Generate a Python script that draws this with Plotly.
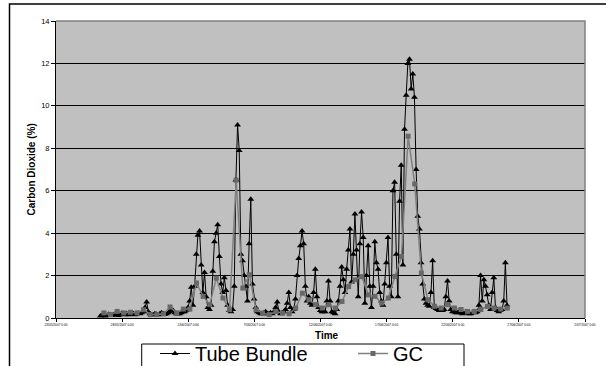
import pandas as pd
import plotly.graph_objects as go

# Sampling schedule of the two analysers
TUBE_BUNDLE_START = "2007-05-26 08:30"
TUBE_BUNDLE_STEP = "3h"
GC_START = "2007-05-26 15:00"
GC_STEP = "12h"

# Tube bundle CO2 (%), one row of 3-hourly readings per day
tube_bundle_co2 = [
    0.10, 0.12, 0.15, 0.10, 0.12, 0.18, 0.15, 0.12,   # 26/05
    0.15, 0.20, 0.15, 0.12, 0.18, 0.22, 0.20, 0.15,   # 27/05
    0.20, 0.15, 0.18, 0.25, 0.20, 0.15, 0.20, 0.22,   # 28/05
    0.20, 0.25, 0.30, 0.50, 0.75, 0.30, 0.20, 0.15,   # 29/05
    0.15, 0.20, 0.18, 0.15, 0.20, 0.25, 0.20, 0.18,   # 30/05
    0.20, 0.25, 0.30, 0.40, 0.35, 0.25, 0.20, 0.20,   # 31/05
    0.20, 0.25, 0.30, 0.30, 0.35, 0.50, 0.80, 1.45,   # 01/06
    0.60, 1.50, 3.00, 3.90, 4.10, 2.50, 1.20, 2.15,   # 02/06
    1.00, 0.50, 0.40, 0.60, 2.20, 3.60, 4.00, 4.40,   # 03/06
    2.90, 1.60, 1.20, 1.90, 1.30, 0.60, 0.35, 0.30,   # 04/06
    0.40, 1.50, 6.50, 9.10, 7.90, 3.00, 2.70, 2.00,   # 05/06
    1.50, 0.80, 3.50, 5.60, 1.60, 0.90, 0.50, 0.30,   # 06/06
    0.25, 0.20, 0.20, 0.25, 0.30, 0.20, 0.20, 0.25,   # 07/06
    0.20, 0.30, 0.50, 0.75, 0.30, 0.20, 0.25, 0.30,   # 08/06
    0.40, 0.70, 1.20, 0.50, 0.30, 0.40, 0.90, 2.00,   # 09/06
    2.80, 3.40, 4.10, 3.50, 1.50, 0.80, 1.00, 0.70,   # 10/06
    0.60, 1.20, 2.30, 1.00, 0.50, 0.35, 0.30, 0.30,   # 11/06
    0.30, 0.80, 1.75, 0.80, 0.30, 0.25, 0.20, 0.40,   # 12/06
    0.80, 1.50, 2.40, 1.80, 1.20, 2.30, 3.20, 4.20,   # 13/06
    1.70, 3.00, 4.90, 3.20, 1.00, 3.50, 5.00, 3.80,   # 14/06
    0.70, 2.00, 3.40, 1.50, 0.50, 1.50, 3.60, 2.60,   # 15/06
    2.30, 1.20, 0.80, 0.60, 1.60, 2.60, 3.80, 1.50,   # 16/06
    1.00, 6.00, 6.40, 3.00, 1.00, 5.50, 7.20, 2.50,   # 17/06
    8.90, 10.50, 12.00, 12.20, 10.80, 11.50, 10.40, 7.00,  # 18/06
    4.80, 4.20, 2.60, 1.60, 0.90, 0.70, 0.60, 0.55,   # 19/06
    1.20, 2.70, 0.50, 0.45, 0.40, 0.35, 0.40, 0.35,   # 20/06
    0.40, 1.00, 1.75, 0.80, 0.40, 0.30, 0.30, 0.25,   # 21/06
    0.25, 0.30, 0.25, 0.20, 0.25, 0.30, 0.25, 0.20,   # 22/06
    0.20, 0.25, 0.30, 0.25, 0.30, 0.60, 2.00, 0.80,   # 23/06
    1.80, 1.50, 1.10, 0.60, 0.40, 1.20, 1.90, 0.50,   # 24/06
    0.35, 0.30, 0.35, 0.40, 0.80, 2.60, 0.60,         # 25/06
]

# Gas chromatograph CO2 (%), twice daily
gc_co2 = [
    0.24, 0.16, 0.31, 0.24, 0.27, 0.24, 0.39, 0.16, 0.16, 0.19,
    0.52, 0.24, 0.42, 0.42, 1.65, 1.02, 0.63, 1.88, 0.94, 0.39,
    6.50, 1.41, 2.04, 0.39, 0.23, 0.16, 0.31, 0.23, 0.20, 0.47,
    1.17, 0.86, 0.63, 0.47, 0.63, 0.47, 0.78, 1.48, 1.80, 1.95,
    1.09, 1.02, 0.71, 0.94, 1.96, 2.90, 8.57, 6.32, 2.12, 0.86,
    0.55, 0.47, 0.63, 0.47, 0.40, 0.31, 0.31, 0.40, 0.55, 0.47,
    0.42, 0.47,
]

x_range = ["2007-05-23", "2007-07-02"]
x_tick_dates = ["2007-05-23", "2007-05-28", "2007-06-02", "2007-06-07", "2007-06-12",
                "2007-06-17", "2007-06-22", "2007-06-27", "2007-07-02"]
x_tick_labels = ["23/05/2007 0:00", "28/05/2007 0:00", "2/06/2007 0:00", "7/06/2007 0:00",
                 "12/06/2007 0:00", "17/06/2007 0:00", "22/06/2007 0:00", "27/06/2007 0:00",
                 "2/07/2007 0:00"]
y_ticks = [0, 2, 4, 6, 8, 10, 12, 14]

tube_times = pd.date_range(TUBE_BUNDLE_START, periods=len(tube_bundle_co2), freq=TUBE_BUNDLE_STEP)
gc_times = pd.date_range(GC_START, periods=len(gc_co2), freq=GC_STEP)

FONT = "Liberation Sans, Arial, sans-serif"
W, H = 606, 366
L, R, T, B = 56, 21, 21, 48
PW, PH = W - L - R, H - T - B


def px_x(px):
    return (px - L) / PW


def px_y(py):
    return (H - B - py) / PH


fig = go.Figure()
fig.add_trace(go.Scatter(
    x=tube_times, y=tube_bundle_co2, name="Tube Bundle", mode="lines+markers",
    line=dict(color="black", width=1),
    marker=dict(symbol="triangle-up", size=6, color="black"),
    legend="legend",
))
fig.add_trace(go.Scatter(
    x=gc_times, y=gc_co2, name="GC", mode="lines+markers",
    line=dict(color="#808080", width=1.5),
    marker=dict(symbol="square", size=5, color="#686868"),
    legend="legend2",
))

legend_common = dict(
    orientation="h", yanchor="top", xanchor="left", y=px_y(334),
    bgcolor="rgba(0,0,0,0)", borderwidth=0,
    font=dict(family=FONT, size=20, color="black"),
)

fig.update_layout(
    width=W, height=H,
    margin=dict(l=L, r=R, t=T, b=B, pad=0, autoexpand=False),
    paper_bgcolor="white", plot_bgcolor="#C0C0C0",
    font=dict(family=FONT, color="black"),
    showlegend=True,
    legend=dict(x=px_x(155), **legend_common),
    legend2=dict(x=px_x(353), **legend_common),
    xaxis=dict(
        type="date", range=x_range, tickvals=x_tick_dates, ticktext=x_tick_labels,
        tickfont=dict(family=FONT, size=3.2, color="black"), tickangle=0,
        ticks="outside", ticklen=3, tickcolor="black", tickwidth=1,
        showline=True, linecolor="black", linewidth=1,
        showgrid=False, zeroline=False, automargin=False,
    ),
    yaxis=dict(
        range=[0, 14], tickvals=y_ticks,
        tickfont=dict(family=FONT, size=7.5, color="black"),
        ticks="outside", ticklen=4, tickcolor="black", tickwidth=1,
        showline=True, linecolor="black", linewidth=1,
        showgrid=True, gridcolor="black", gridwidth=1, zeroline=False, automargin=False,
    ),
    annotations=[
        dict(text="<b>Time</b>", xref="paper", yref="paper", x=px_x(326.7), y=px_y(335),
             xanchor="center", yanchor="middle", showarrow=False,
             font=dict(family=FONT, size=10, color="black")),
        dict(text="<b>Carbon Dioxide (%)</b>", xref="paper", yref="paper", x=px_x(31), y=0.5,
             xanchor="center", yanchor="middle", textangle=-90, showarrow=False,
             font=dict(family=FONT, size=10, color="black")),
    ],
    shapes=[
        # top and right edges of the plot area
        dict(type="path", xref="paper", yref="paper", path="M 0 1 L 1 1 L 1 0",
             line=dict(color="#808080", width=1.5), layer="above"),
        # legend box
        dict(type="rect", xref="paper", yref="paper",
             x0=px_x(141.7), x1=px_x(464), y0=px_y(344), y1=px_y(380),
             line=dict(color="black", width=1), layer="above"),
        # outer chart frame
        dict(type="path", xref="paper", yref="paper",
             path=f"M {px_x(9.5)} {px_y(380)} L {px_x(9.5)} {px_y(4)} L {px_x(620)} {px_y(4)}",
             line=dict(color="black", width=1.5), layer="above"),
    ],
)

fig.write_html("out.html")
